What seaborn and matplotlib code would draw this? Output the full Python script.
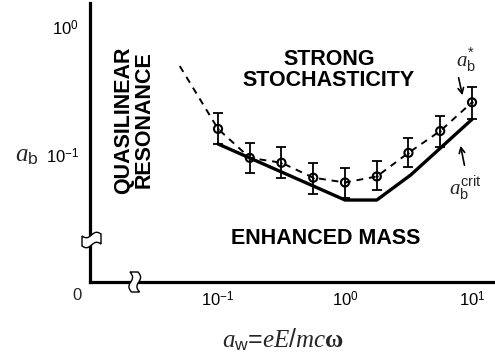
import numpy as np
import pandas as pd
import matplotlib
matplotlib.use("Agg")
import matplotlib.pyplot as plt
from matplotlib.patches import Polygon
import seaborn as sns

# ---- data ----
aw = [0.1, 0.178, 0.316, 0.562, 1.0, 1.78, 3.16, 5.62, 10.0]
ab_star = [0.160, 0.095, 0.087, 0.0665, 0.061, 0.068, 0.104, 0.154, 0.258]
ab_lo = [0.122, 0.072, 0.066, 0.050, 0.046, 0.053, 0.080, 0.116, 0.190]
ab_hi = [0.212, 0.125, 0.115, 0.086, 0.079, 0.089, 0.137, 0.203, 0.338]
dash_ext_x = [0.05]
dash_ext_y = [0.495]
crit_x = [0.1, 1.0, 1.78, 3.3, 10.0]
crit_y = [0.122, 0.0445, 0.0445, 0.070, 0.19]
xticks = [0.1, 1.0, 10.0]
xticklabels = [r"$10^{-1}$", r"$10^{0}$", r"$10^{1}$"]
yticks = [0.1, 1.0]
yticklabels = [r"$10^{-1}$", r"$10^{0}$"]

sns.set_style("white")
plt.rcParams["font.family"] = ["Liberation Sans", "DejaVu Sans"]
plt.rcParams["mathtext.fontset"] = "custom"
plt.rcParams["mathtext.rm"] = "Liberation Sans"
plt.rcParams["mathtext.it"] = "Liberation Serif:italic"
plt.rcParams["mathtext.bf"] = "Liberation Serif:bold"

W, H = 495, 360
fig = plt.figure(figsize=(W / 100, H / 100), dpi=100)
ax = fig.add_axes([90 / W, 1 - 282 / H, 405 / W, 279 / H])

df_dash = pd.DataFrame({"x": dash_ext_x + aw, "y": dash_ext_y + ab_star})
df_crit = pd.DataFrame({"x": crit_x, "y": crit_y})
df_pts = pd.DataFrame({"x": aw, "y": ab_star})

sns.lineplot(data=df_dash, x="x", y="y", ax=ax, color="black", lw=1.4,
             linestyle=(0, (3.5, 3)), sort=False, estimator=None)
sns.lineplot(data=df_crit, x="x", y="y", ax=ax, color="black", lw=2.4,
             sort=False, estimator=None)
yerr = [np.array(ab_star) - np.array(ab_lo), np.array(ab_hi) - np.array(ab_star)]
ax.errorbar(aw, ab_star, yerr=yerr, fmt="none", ecolor="black", elinewidth=1.3,
            capsize=3.5, capthick=1.3)
sns.scatterplot(data=df_pts, x="x", y="y", ax=ax, marker="o", s=34,
                facecolor="none", edgecolor="black", linewidth=1.5, zorder=5)
sns.scatterplot(data=df_pts, x="x", y="y", ax=ax, marker="o", s=3,
                color="black", linewidth=0, zorder=6)

ax.set_xscale("log")
ax.set_yscale("log")
ax.set_xlim(10 ** -2.008, 10 ** 1.181)
ax.set_ylim(10 ** -1.992, 10 ** 0.1875)
ax.set_xticks(xticks)
ax.set_xticklabels(xticklabels)
ax.set_yticks(yticks)
ax.set_yticklabels(yticklabels)
ax.minorticks_off()
ax.tick_params(axis="both", direction="in", length=8, width=1.2, labelsize=12,
               colors="black")
ax.tick_params(axis="x", pad=6)
ax.tick_params(axis="y", pad=8)
ax.set_xlabel("")
ax.set_ylabel("")
for s in ["top", "right"]:
    ax.spines[s].set_visible(False)
for s in ["left", "bottom"]:
    ax.spines[s].set_linewidth(2.3)
    ax.spines[s].set_color("black")

def fp(x, y):
    return (x / W, 1 - y / H)

# region labels
bold = dict(fontweight="bold", fontsize=15.5, color="black", ha="center", va="center")
fig.text(*fp(329, 70), "STRONG\nSTOCHASTICITY", linespacing=1.0, **bold)
fig.text(*fp(326, 238), "ENHANCED MASS", **bold)
fig.text(*fp(134, 120), "QUASILINEAR\nRESONANCE", rotation=90, linespacing=1.0, **bold)

# axis labels
fig.text(*fp(27, 155), r"$a_\mathrm{b}$", fontsize=18, ha="center", va="center")
fig.text(*fp(283, 340), r"$a_\mathrm{w}$=$eE/mc\mathbf{\omega}$", fontsize=18,
         ha="center", va="center")
fig.text(*fp(77, 296), "0", fontsize=12, ha="center", va="center")

# curve labels with arrows
ax.annotate("", xy=(463, H - 98), xycoords="figure pixels",
            xytext=(458, H - 75), textcoords="figure pixels",
            arrowprops=dict(arrowstyle="->", lw=1.2, color="black"))
fig.text(*fp(466, 60), r"$a_\mathrm{b}^{*}$", fontsize=15, ha="center", va="center")
ax.annotate("", xy=(460, H - 143), xycoords="figure pixels",
            xytext=(465, H - 168), textcoords="figure pixels",
            arrowprops=dict(arrowstyle="->", lw=1.2, color="black"))
fig.text(*fp(465, 188), r"$a_\mathrm{b}^\mathrm{crit}$", fontsize=15, ha="center", va="center")

# axis breaks
t = np.linspace(0, 1, 30)
cx, cy = 91, 240
top = [(cx - 9 + 19 * ti, cy - 4 - 2 * ti + 2.2 * np.sin(2 * np.pi * ti)) for ti in t]
bot = [(x, y + 10) for (x, y) in top[::-1]]
poly = [fp(x, y) for (x, y) in top + bot]
fig.patches.append(Polygon(poly, closed=True, facecolor="white", edgecolor="black",
                           lw=1.0, transform=fig.transFigure, figure=fig, zorder=10))
cx, cy = 134, 282
left = [(cx - 4 + 1.5 * si + 2.2 * np.sin(2 * np.pi * si), cy - 10 + 20 * si) for si in t]
right = [(x + 8, y) for (x, y) in left[::-1]]
poly = [fp(x, y) for (x, y) in left + right]
fig.patches.append(Polygon(poly, closed=True, facecolor="white", edgecolor="black",
                           lw=1.0, transform=fig.transFigure, figure=fig, zorder=10))

fig.savefig("out.png", dpi=100)
